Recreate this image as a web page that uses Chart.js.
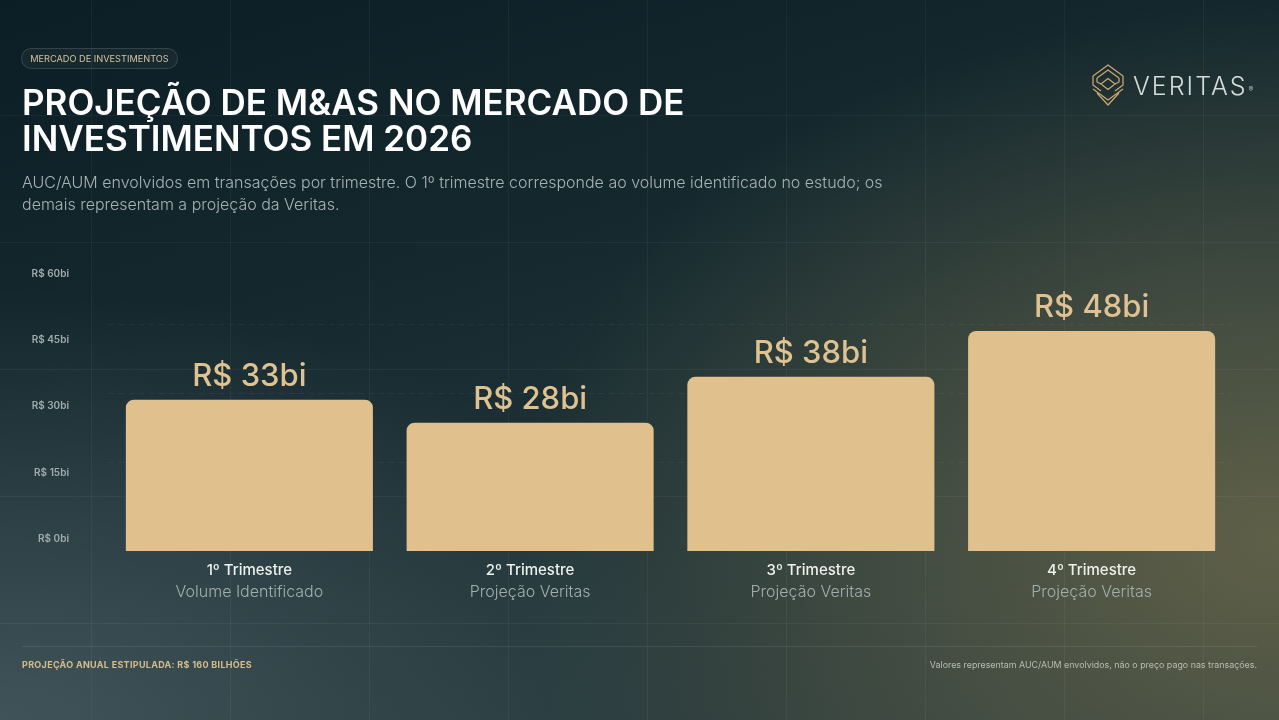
<!DOCTYPE html>
<html lang="pt-BR">
<head>
<meta charset="utf-8">
<script src="https://cdn.jsdelivr.net/npm/chart.js@4.4.1/dist/chart.umd.min.js"></script>
<style>
  html, body { margin:0; padding:0; }
  body {
    width:1279px; height:720px; overflow:hidden; position:relative;
    font-family: Inter, "Noto Sans", sans-serif;
    background:
      radial-gradient(ellipse 55% 60% at 0% 100%, rgba(88,108,114,0.55), rgba(88,108,114,0) 100%),
      radial-gradient(ellipse 60% 75% at 100% 75%, rgba(98,98,72,0.95), rgba(98,98,72,0) 100%),
      linear-gradient(165deg, #0c1e25 0%, #14282e 35%, #22363a 70%, #2d3d3f 100%);
  }
  #grid {
    position:absolute; inset:0; pointer-events:none;
    background-image:
      linear-gradient(to right, rgba(255,255,255,0.045) 1px, transparent 1px),
      linear-gradient(to bottom, rgba(255,255,255,0.045) 1px, transparent 1px);
    background-size: 139px 100%, 100% 127px;
    background-position: 91px 0, 0 115px;
  }
  canvas { position:absolute; left:0; top:0; }
  .tag {
    position:absolute; left:21px; top:48px; height:21px; width:157px;
    box-sizing:border-box; border:1px solid rgba(255,255,255,0.13);
    background:rgba(255,255,255,0.04); border-radius:11px;
    color:#d2c3a2; font-size:9.2px; line-height:19px; text-align:center; font-weight:400;
  }
  h1 {
    position:absolute; left:22px; top:84px; margin:0;
    color:#ffffff; font-size:35px; font-weight:600; line-height:36px; letter-spacing:0px;
  }
  .sub {
    position:absolute; left:22px; top:171px; margin:0;
    color:#a8b3b5; font-size:16px; font-weight:300; line-height:22px;
  }
  .logo { position:absolute; left:1091px; top:63px; }
  .brand {
    position:absolute; left:1133px; top:70px; color:#d5dcd8;
    font-size:25px; font-weight:300; letter-spacing:2px; line-height:32px;
  }
  .brand sup { font-size:7px; letter-spacing:0; vertical-align:top; position:relative; top:4px; left:1px; }
  .footline { position:absolute; left:22px; width:1235px; top:646px; height:1px; background:rgba(255,255,255,0.09); }
  .foot-l { position:absolute; left:22px; top:659px; color:#d4bd8d; font-size:9px; font-weight:700; letter-spacing:0.3px; }
  .foot-r { position:absolute; right:22px; top:659px; color:#b9bcb2; font-size:8.9px; font-weight:400; }
</style>
</head>
<body>
<div id="grid"></div>
<canvas id="c" width="1279" height="720"></canvas>
<div class="tag">MERCADO DE INVESTIMENTOS</div>
<h1>PROJEÇÃO DE M&amp;AS NO MERCADO DE<br>INVESTIMENTOS EM 2026</h1>
<p class="sub">AUC/AUM envolvidos em transações por trimestre. O 1º trimestre corresponde ao volume identificado no estudo; os<br>demais representam a projeção da Veritas.</p>
<svg class="logo" width="34" height="44" viewBox="0 0 34 44" fill="none" stroke="#c6a66c" stroke-width="1.3" stroke-linejoin="round">
  <path d="M2 13 L17 2 L32 13"/>
  <path d="M6 15 L17 7 L28 15"/>
  <path d="M2 13 L2 22 L10 28"/>
  <path d="M32 13 L32 22 L24 28"/>
  <path d="M10 21 L17 15.5 L24 21 L17 26.5 Z"/>
  <path d="M6 15 L6 19 L10 21"/>
  <path d="M28 15 L28 19 L24 21"/>
  <path d="M2 26 L17 37 L32 26"/>
  <path d="M6 30 L17 42 L28 30"/>
</svg>
<div class="brand">VERITAS<sup>®</sup></div>
<div class="footline"></div>
<div class="foot-l">PROJEÇÃO ANUAL ESTIPULADA: R$ 160 BILHÕES</div>
<div class="foot-r">Valores representam AUC/AUM envolvidos, não o preço pago nas transações.</div>

<script>
const categories = ['1º Trimestre', '2º Trimestre', '3º Trimestre', '4º Trimestre'];
const subLabels = ['Volume Identificado', 'Projeção Veritas', 'Projeção Veritas', 'Projeção Veritas'];
const values = [33, 28, 38, 48];
const yTickValues = [0, 15, 30, 45, 60];
const gridValues = [15, 30, 45];

const valueLabels = {
  id: 'valueLabels',
  afterDatasetsDraw(chart) {
    const ctx = chart.ctx;
    const meta = chart.getDatasetMeta(0);
    ctx.save();
    ctx.font = '500 31px Inter, sans-serif';
    ctx.fillStyle = '#dfc291';
    ctx.textAlign = 'center';
    ctx.textBaseline = 'alphabetic';
    meta.data.forEach((bar, i) => {
      ctx.fillText('R$ ' + values[i] + 'bi', bar.x, bar.y - 14);
    });
    ctx.restore();
  }
};

new Chart(document.getElementById('c'), {
  type: 'bar',
  data: {
    labels: categories,
    datasets: [{
      data: values,
      backgroundColor: '#e0c08d',
      borderRadius: 8,
      borderSkipped: 'start',
      categoryPercentage: 1,
      barPercentage: 0.88,
      xAxisID: 'x',
      yAxisID: 'y'
    }]
  },
  options: {
    responsive: false,
    animation: false,
    devicePixelRatio: 1,
    layout: { padding: { left: 0, top: 270, right: 47, bottom: 113 } },
    plugins: { legend: { display: false }, tooltip: { enabled: false } },
    scales: {
      x: {
        type: 'category', position: 'bottom', weight: 0,
        grid: { display: false, drawTicks: false }, border: { display: false },
        ticks: { color: '#eef0ec', font: { family: 'Inter', size: 15, weight: 500 }, padding: 10 },
        afterFit: s => { s.height = 26; }
      },
      x2: {
        type: 'category', position: 'bottom', weight: 1, labels: subLabels,
        grid: { display: false, drawTicks: false }, border: { display: false },
        ticks: { color: '#a3afae', font: { family: 'Inter', size: 16, weight: 300 }, padding: 6 },
        afterFit: s => { s.height = 30; }
      },
      y: { display: false, min: 0, max: 61.3 },
      yl: {
        position: 'left', min: -2.717, max: 60.9,
        grid: { display: false, drawTicks: false }, border: { display: false },
        afterBuildTicks: s => { s.ticks = yTickValues.map(v => ({ value: v })); },
        ticks: {
          color: '#a2adb0', padding: 40,
          font: { family: 'Inter', size: 10, weight: 600 },
          callback: v => 'R$ ' + v + 'bi'
        },
        afterFit: s => { s.width = 109; }
      },
      yg: {
        position: 'right', min: -4.348, max: 56.74,
        afterBuildTicks: s => { s.ticks = gridValues.map(v => ({ value: v })); },
        ticks: { display: false },
        grid: { color: 'rgba(255,255,255,0.055)', drawTicks: false },
        border: { display: false, dash: [5, 5] },
        afterFit: s => { s.width = 0; }
      }
    }
  },
  plugins: [valueLabels]
});
</script>
</body>
</html>
